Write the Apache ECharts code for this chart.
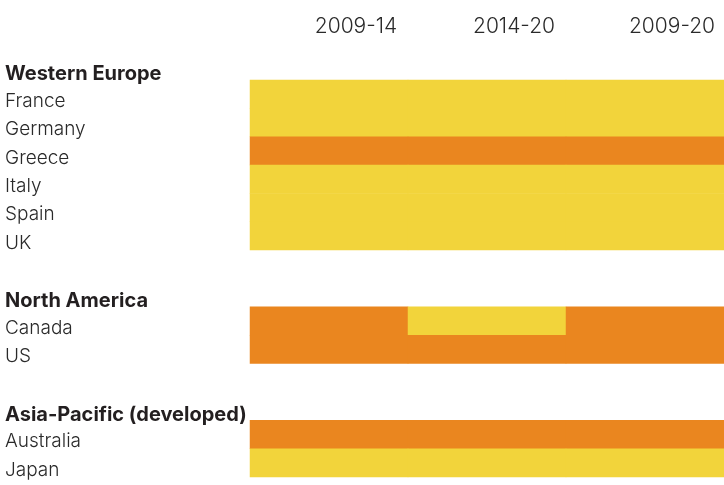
<!DOCTYPE html>
<html>
<head>
<meta charset="utf-8">
<script src="https://cdn.jsdelivr.net/npm/echarts@6/dist/echarts.min.js"></script>
<style>html,body{margin:0;padding:0;background:#fff}#c{width:724px;height:485px}</style>
</head>
<body>
<div id="c"></div>
<script>
// Column (period) labels
const periods = ['2009-14', '2014-20', '2009-20'];
// Row labels, top to bottom (group headers, countries, gaps)
const rows = ['Western Europe', 'France', 'Germany', 'Greece', 'Italy', 'Spain', 'UK', 'gap1',
  'North America', 'Canada', 'US', 'gap2',
  'Asia-Pacific (developed)', 'Australia', 'Japan'];
const headers = ['Western Europe', 'North America', 'Asia-Pacific (developed)'];
// Ratings per period: 1 = yellow, 2 = orange
const france = [1, 1, 1];
const germany = [1, 1, 1];
const greece = [2, 2, 2];
const italy = [1, 1, 1];
const spain = [1, 1, 1];
const uk = [1, 1, 1];
const canada = [2, 1, 2];
const us = [2, 2, 2];
const australia = [2, 2, 2];
const japan = [1, 1, 1];
const countryValues = [
  ['France', france], ['Germany', germany], ['Greece', greece], ['Italy', italy],
  ['Spain', spain], ['UK', uk], ['Canada', canada], ['US', us],
  ['Australia', australia], ['Japan', japan]
];

const data = [];
countryValues.forEach(([name, vals]) => {
  const r = rows.indexOf(name);
  vals.forEach((v, c) => data.push([c, r, v]));
});

const chart = echarts.init(document.getElementById('c'));
chart.setOption({
  animation: false,
  backgroundColor: '#ffffff',
  grid: { left: 250, right: -3, top: 51.6, bottom: 8 },
  xAxis: {
    type: 'category', position: 'top', data: periods,
    axisLine: { show: false }, axisTick: { show: false }, splitLine: { show: false },
    axisLabel: {
      margin: 14, fontFamily: 'Inter', fontSize: 21, fontWeight: 300, color: '#2a2a2a',
      align: 'center', padding: [0, 0, 0, 54]
    }
  },
  yAxis: {
    type: 'category', data: rows, inverse: true,
    axisLine: { show: false }, axisTick: { show: false }, splitLine: { show: false },
    axisLabel: {
      margin: 245, align: 'left', interval: 0,
      formatter: (v) => {
        if (v.indexOf('gap') === 0) return '';
        return headers.indexOf(v) >= 0 ? '{h|' + v + '}' : '{c|' + v + '}';
      },
      rich: {
        h: { fontFamily: 'Inter', fontSize: 20, fontWeight: 'bold', color: '#231f20', padding: [17, 0, 0, 0] },
        c: { fontFamily: 'Inter', fontSize: 19, fontWeight: 300, color: '#2a2a2a', padding: [14, 0, 0, 0] }
      }
    }
  },
  visualMap: {
    show: false, type: 'piecewise', dimension: 2,
    pieces: [{ value: 1, color: '#F2D43B' }, { value: 2, color: '#EA861F' }]
  },
  series: [{
    type: 'heatmap', data: data,
    itemStyle: { borderWidth: 0 },
    emphasis: { disabled: true }
  }]
});
</script>
</body>
</html>
